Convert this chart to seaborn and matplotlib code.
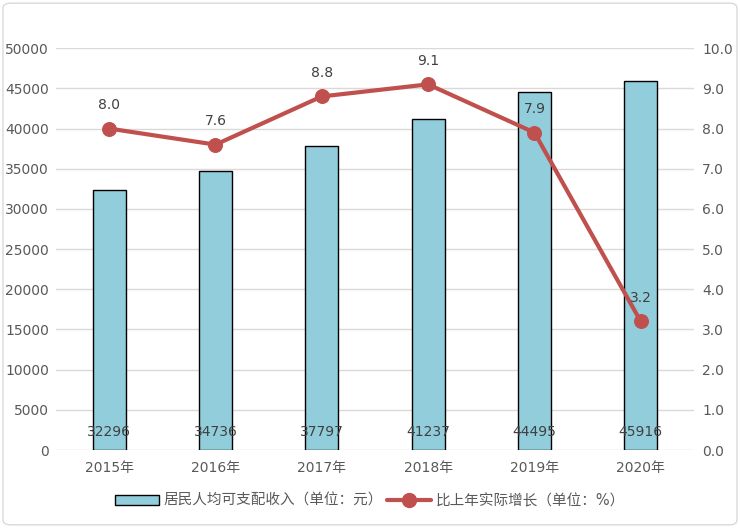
import numpy as np
import matplotlib
matplotlib.use("Agg")
import matplotlib.pyplot as plt
import seaborn as sns
from matplotlib.patches import Patch, FancyBboxPatch
from matplotlib.lines import Line2D

## data
years = ["2015年", "2016年", "2017年", "2018年", "2019年", "2020年"]
income = [32296, 34736, 37797, 41237, 44495, 45916]
growth = [8.0, 7.6, 8.8, 9.1, 7.9, 3.2]
income_label = "居民人均可支配收入（单位：元）"
growth_label = "比上年实际增长（单位：%）"

sns.set_theme(style="white")
plt.rcParams['font.family'] = ['DejaVu Sans', 'Noto Sans CJK SC']

bar_color = "#92CDDC"
line_color = "#C0504D"
text_color = "#595959"

fig = plt.figure(figsize=(7.4, 5.28), dpi=100)
ax = fig.add_axes([0.0757, 0.1477, 0.862, 0.761])

sns.barplot(x=years, y=income, color=bar_color, edgecolor="black",
            linewidth=1.0, width=0.31, saturation=1, ax=ax)
ax.set_ylim(0, 50000)
ax.set_yticks(np.arange(0, 50001, 5000))
ax.yaxis.grid(True, color="#D9D9D9", linewidth=1)
ax.set_axisbelow(True)
ax.set_xlabel("")
ax.set_ylabel("")
ax.tick_params(axis="both", length=0, labelsize=10, colors=text_color)
ax.tick_params(axis="y", pad=5)
ax.tick_params(axis="x", pad=8)
for s in ax.spines.values():
    s.set_visible(False)

# bar labels near the bottom
for i, v in enumerate(income):
    ax.text(i, 2300, str(v), ha="center", va="center", fontsize=10, color="#404040")

ax2 = ax.twinx()
sns.lineplot(x=np.arange(len(years)), y=growth, color=line_color, linewidth=3,
             marker="o", markersize=10, markeredgecolor=line_color, ax=ax2)
ax2.set_ylim(0, 10)
ax2.set_yticks(np.arange(0, 10.01, 1))
ax2.set_yticklabels([f"{t:.1f}" for t in np.arange(0, 10.01, 1)])
ax2.tick_params(axis="y", length=0, labelsize=10, colors=text_color, pad=6)
ax2.set_ylabel("")
ax2.grid(False)
for s in ax2.spines.values():
    s.set_visible(False)
ax.set_xlim(-0.5, len(years) - 0.5)

for i, v in enumerate(growth):
    ax2.annotate(f"{v:.1f}", (i, v), xytext=(0, 12), textcoords="offset points",
                 ha="center", va="bottom", fontsize=10, color="#404040")

handles = [Patch(facecolor=bar_color, edgecolor="black", linewidth=1.0),
           Line2D([0], [0], color=line_color, linewidth=3, marker="o", markersize=10)]
fig.legend(handles, [income_label, growth_label], loc="center", ncol=2,
           bbox_to_anchor=(0.5, 0.052), frameon=False, fontsize=10.5,
           handlelength=3, columnspacing=0.3, handletextpad=0.3,
           labelcolor=text_color)

# outer border
fig.patches.append(FancyBboxPatch((0.004, 0.006), 0.992, 0.988,
                                  boxstyle="round,pad=0,rounding_size=0.01",
                                  transform=fig.transFigure, fill=False,
                                  edgecolor="#D9D9D9", linewidth=1))

fig.savefig("out.png", dpi=100)
